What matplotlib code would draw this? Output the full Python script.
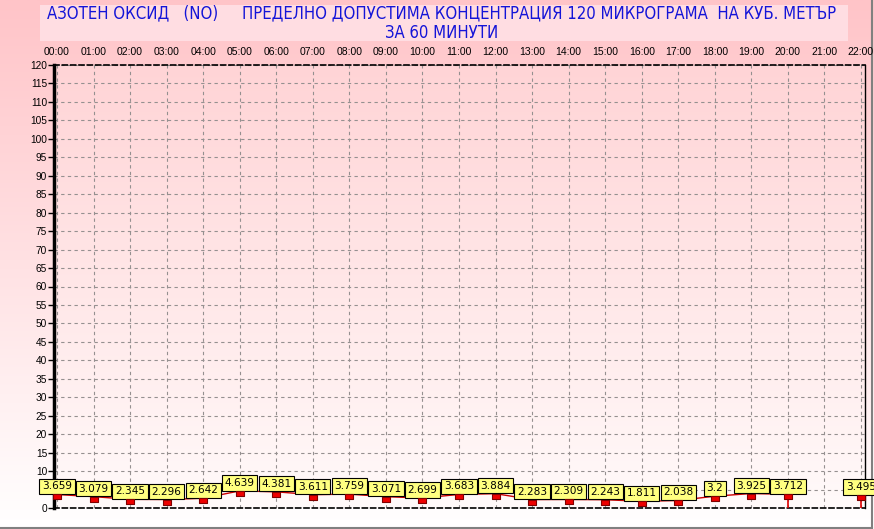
import numpy as np
import matplotlib.pyplot as plt
from matplotlib.path import Path
from matplotlib.patches import Rectangle
from matplotlib.colors import LinearSegmentedColormap
from matplotlib.lines import Line2D
from matplotlib import font_manager

# часове и стойности (21:00 липсва)
hours = list(range(23))
hour_labels = ["%02d:00" % h for h in hours]
values = [3.659, 3.079, 2.345, 2.296, 2.642, 4.639, 4.381, 3.611, 3.759, 3.071,
          2.699, 3.683, 3.884, 2.283, 2.309, 2.243, 1.811, 2.038, 3.2, 3.925,
          3.712, None, 3.495]
yticks = list(range(0, 121, 5))
title = ("АЗОТЕН ОКСИД   (NO)     ПРЕДЕЛНО ДОПУСТИМА КОНЦЕНТРАЦИЯ 120 МИКРОГРАМА  НА КУБ. МЕТЪР\n"
         "ЗА 60 МИНУТИ")

W, H = 874, 529
fig = plt.figure(figsize=(W / 100, H / 100), dpi=100)

# фон на фигурата - градиент
bg = fig.add_axes([0, 0, 1, 1], zorder=-10)
bg_cmap = LinearSegmentedColormap.from_list("bg", ["#ffffff", "#ffc4c8"])
bg.imshow(np.linspace(0, 1, 256).reshape(-1, 1), cmap=bg_cmap, aspect="auto",
          origin="lower", extent=[0, 1, 0, 1])
bg.set_xlim(0, 1)
bg.set_ylim(0, 1)
bg.axis("off")
bg.add_patch(Rectangle((40 / W, 1 - 41 / H), 808 / W, 36 / H, color="#ffdde2", lw=0))
bg.add_line(Line2D([0, 872 / W], [1 - 527.5 / H] * 2, color="#808080", lw=1.5))
bg.add_line(Line2D([872 / W] * 2, [1 - 527.5 / H, 1], color="#808080", lw=1.5))

# тясен шрифт за заглавието
cond = font_manager.FontProperties(family="DejaVu Sans", stretch="condensed", size=12)
fig.text(442 / W, 1 - 23 / H, title, ha="center", va="center", color="#1414d8",
         fontproperties=cond, linespacing=1.1)

x0, x1 = 54, 865
y0, y1 = 508, 65
ax = fig.add_axes([x0 / W, 1 - y0 / H, (x1 - x0) / W, (y0 - y1) / H])
xmin = -3 / 36.545
xmax = 22 + 4 / 36.545
ax.set_xlim(xmin, xmax)
ax.set_ylim(0, 120)

pa_cmap = LinearSegmentedColormap.from_list("pa", ["#fffafa", "#ffd4d6"])
ax.imshow(np.linspace(0, 1, 256).reshape(-1, 1), cmap=pa_cmap, aspect="auto",
          origin="lower", extent=[xmin, xmax, 0, 120], zorder=0)

ax.set_xticks(hours)
ax.set_xticklabels(hour_labels)
ax.set_yticks(yticks)
ax.xaxis.tick_top()
ax.tick_params(axis="x", length=0, pad=6, labelsize=7.5)
ax.tick_params(axis="y", length=4, width=1, pad=1, labelsize=7.3)
for lab in ax.get_xticklabels() + ax.get_yticklabels():
    lab.set_family("Liberation Sans")
ax.grid(True, color="#959090", ls=(0, (3, 3)), lw=0.8, zorder=1)

for s in ["top", "bottom"]:
    ax.spines[s].set_linestyle((0, (3, 2)))
    ax.spines[s].set_linewidth(1.2)
ax.spines["left"].set_linewidth(2.5)
ax.spines["right"].set_linewidth(1)

yv = np.array([np.nan if v is None else v for v in values])
x = np.array(hours)
ax.plot(x, yv, color="#cc0000", lw=1, zorder=3)

# вертикални линии за точки до празнина
for i, v in enumerate(values):
    if v is None:
        continue
    prev_missing = i > 0 and values[i - 1] is None
    next_missing = i < len(values) - 1 and values[i + 1] is None
    if prev_missing or next_missing:
        ax.vlines(i, 0, v, color="#dd0000", lw=1.2, zorder=3)

box = Path([(-1, 0.1), (1, 0.1), (1, -1.1), (-1, -1.1), (-1, 0.1)],
           [Path.MOVETO, Path.LINETO, Path.LINETO, Path.LINETO, Path.CLOSEPOLY])
ax.plot(x, yv, ls="none", marker=box, ms=6.5, mfc="#ee0000", mec="#800000",
        mew=0.8, zorder=6, clip_on=False)

for i, v in enumerate(values):
    if v is None:
        continue
    ax.annotate("%g" % v, (i, v), xytext=(0, 8), textcoords="offset pixels",
                ha="center", va="center", fontsize=7.6, family="DejaVu Sans",
                bbox=dict(boxstyle="square,pad=0.25", fc="#ffff80", ec="black", lw=0.8),
                zorder=5, annotation_clip=False)

fig.savefig("out.png", dpi=100)
